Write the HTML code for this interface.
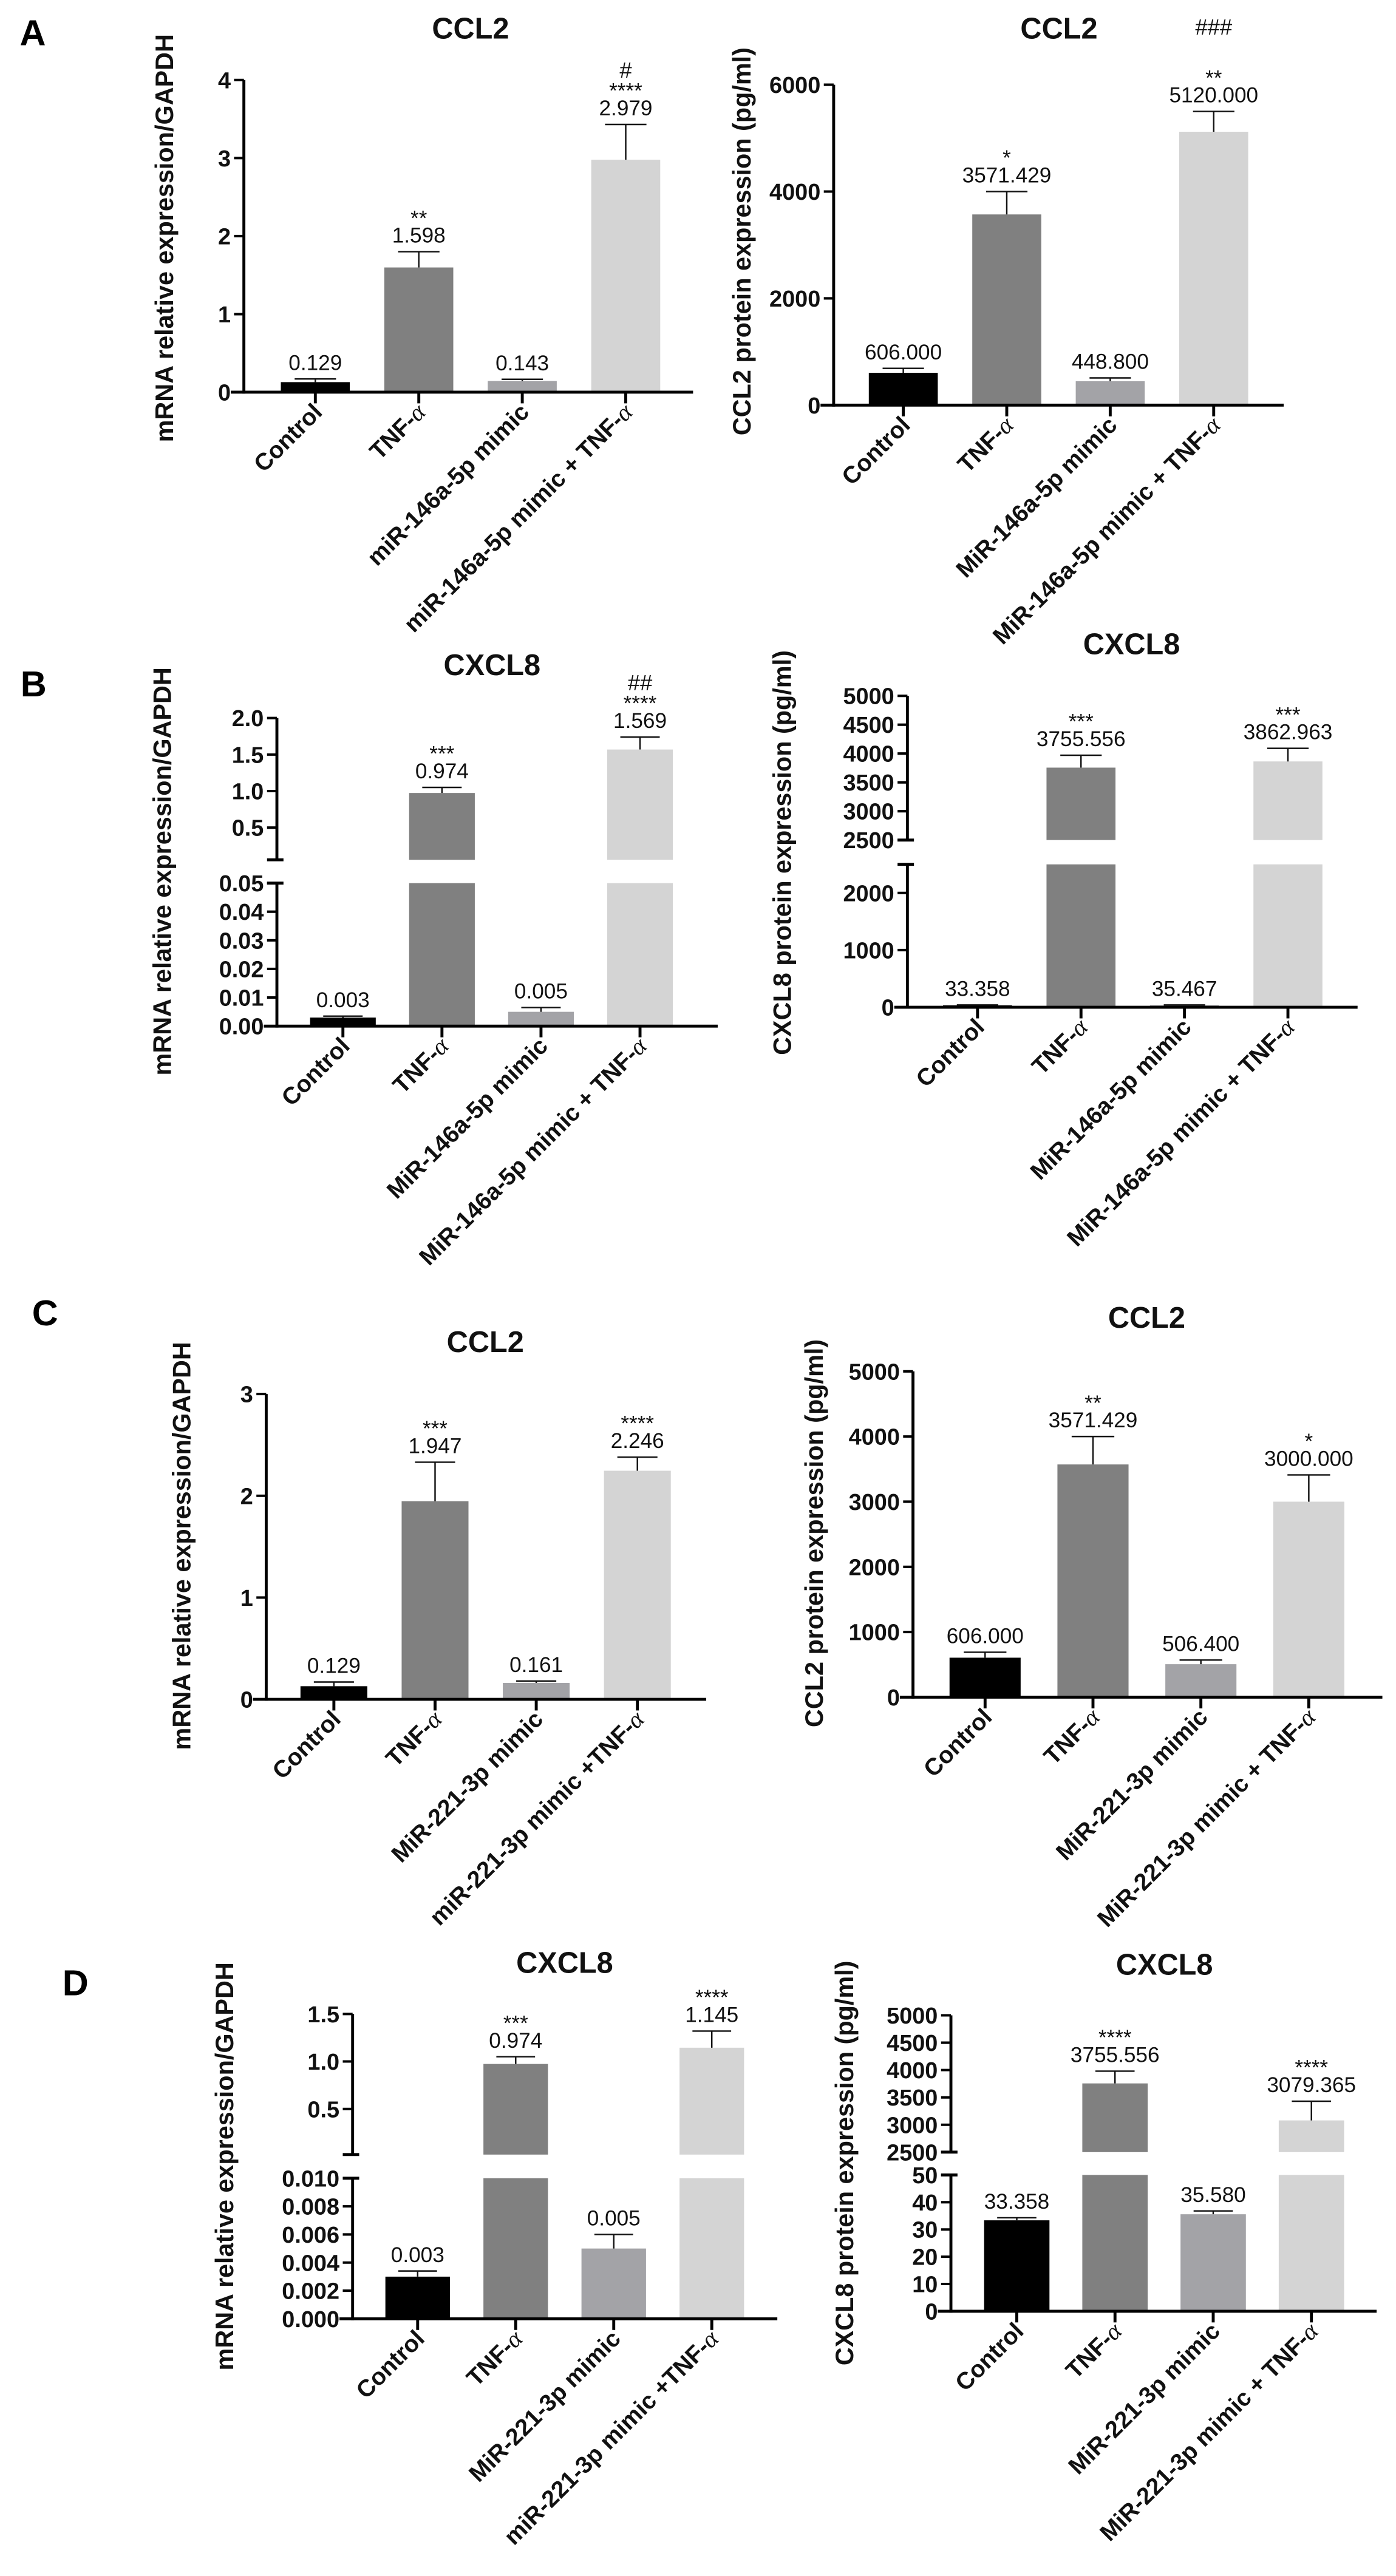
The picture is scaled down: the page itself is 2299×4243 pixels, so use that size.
<!DOCTYPE html>
<html><head><meta charset="utf-8"><title>CCL2 / CXCL8 expression</title>
<style>
html,body{margin:0;padding:0;background:#fff;}
svg{display:block;}
text{font-family:"Liberation Sans",Arial,sans-serif;}
</style></head>
<body>
<svg id="fig" xmlns="http://www.w3.org/2000/svg" width="2299" height="4243" viewBox="0 0 850 1568.5" preserveAspectRatio="none"></svg>
<script>
// ---------- DATA ----------
const colors = ['#000000','#808080','#a3a3a7','#d4d4d4'];

const aLeftCategories = ['Control','TNF-α','miR-146a-5p mimic','miR-146a-5p mimic + TNF-α'];
const aLeftValues = [0.129, 1.598, 0.143, 2.979];
const aLeftErrors = [0.17, 1.80, 0.165, 3.43];
const aLeftStars = ['', '**', '', '****'];
const aLeftHash = ['', '', '', '#'];
const aLeftTicks = [0, 1, 2, 3, 4];

const aRightCategories = ['Control','TNF-α','MiR-146a-5p mimic','MiR-146a-5p mimic + TNF-α'];
const aRightValues = [606.000, 3571.429, 448.800, 5120.000];
const aRightErrors = [690, 4000, 510, 5500];
const aRightStars = ['', '*', '', '**'];
const aRightHash = ['', '', '', '###'];
const aRightTicks = [0, 2000, 4000, 6000];

const bLeftCategories = ['Control','TNF-α','MiR-146a-5p mimic','MiR-146a-5p mimic + TNF-α'];
const bLeftValues = [0.003, 0.974, 0.005, 1.569];
const bLeftErrors = [0.0035, 1.05, 0.0065, 1.74];
const bLeftStars = ['', '***', '', '****'];
const bLeftHash = ['', '', '', '##'];
const bLeftTicksLower = [0, 0.01, 0.02, 0.03, 0.04, 0.05];
const bLeftTicksUpper = [0.5, 1.0, 1.5, 2.0];

const bRightCategories = ['Control','TNF-α','MiR-146a-5p mimic','MiR-146a-5p mimic + TNF-α'];
const bRightValues = [33.358, 3755.556, 35.467, 3862.963];
const bRightErrors = [40, 3970, 40, 4090];
const bRightStars = ['', '***', '', '***'];
const bRightHash = ['', '', '', ''];
const bRightTicksLower = [0, 1000, 2000];
const bRightTicksUpper = [2500, 3000, 3500, 4000, 4500, 5000];

const cLeftCategories = ['Control','TNF-α','MiR-221-3p mimic','miR-221-3p mimic +TNF-α'];
const cLeftValues = [0.129, 1.947, 0.161, 2.246];
const cLeftErrors = [0.17, 2.33, 0.18, 2.38];
const cLeftStars = ['', '***', '', '****'];
const cLeftHash = ['', '', '', ''];
const cLeftTicks = [0, 1, 2, 3];

const cRightCategories = ['Control','TNF-α','MiR-221-3p mimic','MiR-221-3p mimic + TNF-α'];
const cRightValues = [606.000, 3571.429, 506.400, 3000.000];
const cRightErrors = [690, 4000, 570, 3410];
const cRightStars = ['', '**', '', '*'];
const cRightHash = ['', '', '', ''];
const cRightTicks = [0, 1000, 2000, 3000, 4000, 5000];

const dLeftCategories = ['Control','TNF-α','MiR-221-3p mimic','miR-221-3p mimic +TNF-α'];
const dLeftValues = [0.003, 0.974, 0.005, 1.145];
const dLeftErrors = [0.0034, 1.05, 0.006, 1.32];
const dLeftStars = ['', '***', '', '****'];
const dLeftHash = ['', '', '', ''];
const dLeftTicksLower = [0, 0.002, 0.004, 0.006, 0.008, 0.010];
const dLeftTicksUpper = [0.5, 1.0, 1.5];

const dRightCategories = ['Control','TNF-α','MiR-221-3p mimic','MiR-221-3p mimic + TNF-α'];
const dRightValues = [33.358, 3755.556, 35.580, 3079.365];
const dRightErrors = [34.3, 3980, 36.8, 3430];
const dRightStars = ['', '****', '', '****'];
const dRightHash = ['', '', '', ''];
const dRightTicksLower = [0, 10, 20, 30, 40, 50];
const dRightTicksUpper = [2500, 3000, 3500, 4000, 4500, 5000];

// ---------- DRAWING ----------
const NS = 'http://www.w3.org/2000/svg';
const svg = document.getElementById('fig');
function mk(tag, attrs, parent) {
  const e = document.createElementNS(NS, tag);
  for (const k in attrs) e.setAttribute(k, attrs[k]);
  (parent || svg).appendChild(e);
  return e;
}

function addLabel(x, y, txt, size, weight, parent) {
  const t = mk('text', {x: x, y: y, 'font-size': size, 'font-weight': weight, 'text-anchor': 'middle', fill: '#111'}, parent);
  t.textContent = txt;
  return t;
}

function drawPanel(cfg) {
  const g = mk('g', {});
  
  
  const segs = cfg.segments;
  function segY(s, v) {
    const vv = Math.max(s.v0, Math.min(s.v1, v));
    return s.y0 + (vv - s.v0) / (s.v1 - s.v0) * (s.y1 - s.y0);
  }
  function yScale(v) {
    let s = segs[segs.length - 1];
    for (const sg of segs) { if (v <= sg.v1) { s = sg; break; } }
    return segY(s, v);
  }
  function xScale(i) { return cfg.c0 + i * cfg.step; }
  const axisY = segs[0].y0;

  const title = addLabel(cfg.titleX, cfg.titleY, cfg.title, 18, 'bold', g);
  
  

  const yt = mk('text', {x: 0, y: 0, 'font-size': 15.3, 'font-weight': 'bold', 'text-anchor': 'middle', fill: '#111',
    transform: 'translate(' + (cfg.yTitleX + 5) + ',' + cfg.yTitleY + ') rotate(-90)'}, g);
  yt.textContent = cfg.yTitle;
  
  

  cfg.values.forEach(function (v, i) {
    const cx = xScale(i);
    segs.forEach(function (s) {
      if (v <= s.v0) return;
      const top = segY(s, Math.min(v, s.v1));
      const bot = s.y0;
      const r = mk('rect', {x: cx - cfg.bw / 2, y: top, width: cfg.bw, height: Math.max(0, bot - top), fill: colors[i]}, g);
      
      
    });
    const yv = yScale(v), ye = yScale(cfg.errors[i]);
    const eb = mk('path', {d: 'M' + cx + ' ' + yv + 'V' + ye + 'M' + (cx - cfg.bw * 0.3) + ' ' + ye + 'H' + (cx + cfg.bw * 0.3),
      stroke: '#111', 'stroke-width': 0.9, fill: 'none'}, g);
    
    
    const vb = ye - 5.5;
    const vl = addLabel(cx, vb, v.toFixed(cfg.dec), 13, 'normal', g);
    
    
    if (cfg.stars[i]) {
      const st = addLabel(cx, vb - 10.5, cfg.stars[i], 13, 'normal', g);
      
      
    }
    if (cfg.hash[i]) {
      const hy = cfg.hashY !== undefined ? cfg.hashY : (vb - 10.5 - (cfg.stars[i] ? 12.5 : 0));
      const hs = addLabel(cx, hy, cfg.hash[i], 13.5, 'normal', g);
      
      
    }
  });

  const ax = cfg.axisX;
  segs.forEach(function (s, si) {
    const line = mk('line', {x1: ax, x2: ax, y1: s.y0 + (si === 0 ? 0.9 : 0), y2: s.y1, stroke: '#000', 'stroke-width': 1.8}, g);
    
    
    if (segs.length > 1) {
      if (si > 0) {
        const bt = mk('line', {x1: ax - 6, x2: ax + 4, y1: s.y0, y2: s.y0, stroke: '#000', 'stroke-width': 1.8}, g);
        
        
      }
      if (si < segs.length - 1) {
        const bt2 = mk('line', {x1: ax - 6, x2: ax + 4, y1: s.y1, y2: s.y1, stroke: '#000', 'stroke-width': 1.8}, g);
        
        
      }
    }
    (s.ticks || []).forEach(function (tv) {
      const ty = segY(s, tv);
      const tk = mk('line', {x1: ax - 6, x2: ax, y1: ty, y2: ty, stroke: '#000', 'stroke-width': 1.5}, g);
      
      
      const tl = mk('text', {x: ax - 8, y: ty + 5, 'font-size': 14, 'font-weight': 'bold', 'text-anchor': 'end', fill: '#111'}, g);
      tl.textContent = tv.toFixed(s.dec);
      
      
    });
  });

  const xa = mk('line', {x1: ax - 8, x2: cfg.axisEnd, y1: axisY, y2: axisY, stroke: '#000', 'stroke-width': 1.8}, g);
  
  
  cfg.categories.forEach(function (c, i) {
    const cx = xScale(i);
    const xt = mk('line', {x1: cx, x2: cx, y1: axisY, y2: axisY + 6.8, stroke: '#000', 'stroke-width': 1.8}, g);
    
    
    const px = cx + 5, py = axisY + 13;
    const lb = mk('text', {x: 0, y: 0, 'font-size': 14.5, 'font-weight': 'bold', 'text-anchor': 'end', fill: '#111',
      transform: 'translate(' + px + ',' + py + ') rotate(-45)'}, g);
    
    
    const idx = c.indexOf('α');
    if (idx >= 0) {
      const t1 = mk('tspan', {}, lb); t1.textContent = c.slice(0, idx);
      const t2 = mk('tspan', {'font-family': '"Liberation Serif",serif', 'font-style': 'italic', 'font-weight': 'normal', 'font-size': 15}, lb);
      t2.textContent = 'α';
    } else {
      lb.textContent = c;
    }
  });
}

function panelLetter(txt, x, y) {
  const t = mk('text', {x: x, y: y, 'font-size': 22, 'font-weight': 'bold', fill: '#000'});
  t.textContent = txt;
  
  
}

panelLetter('A', 12, 27.5);
panelLetter('B', 12.5, 424);
panelLetter('C', 19.5, 807);
panelLetter('D', 38, 1215);

drawPanel({name: 'panel-a-ccl2-mrna', title: 'CCL2', titleX: 286.5, titleY: 23.5, yTitle: 'mRNA relative expression/GAPDH', yTitleX: 100.3, yTitleY: 145,
  categories: aLeftCategories, values: aLeftValues, errors: aLeftErrors, stars: aLeftStars, hash: aLeftHash, dec: 3,
  segments: [{v0: 0, v1: 4, y0: 238.8, y1: 48.7, ticks: aLeftTicks, dec: 0}], axisX: 148.5, axisEnd: 422, c0: 192, step: 63, bw: 42});

drawPanel({name: 'panel-a-ccl2-protein', title: 'CCL2', titleX: 644.8, titleY: 23.5, yTitle: 'CCL2 protein expression (pg/ml)', yTitleX: 452, yTitleY: 147,
  categories: aRightCategories, values: aRightValues, errors: aRightErrors, stars: aRightStars, hash: aRightHash, hashY: 21, dec: 3,
  segments: [{v0: 0, v1: 6000, y0: 246.7, y1: 51.6, ticks: aRightTicks, dec: 0}], axisX: 507.6, axisEnd: 781.6, c0: 550, step: 63, bw: 42});

drawPanel({name: 'panel-b-cxcl8-mrna', title: 'CXCL8', titleX: 299.6, titleY: 411, yTitle: 'mRNA relative expression/GAPDH', yTitleX: 99, yTitleY: 530.6,
  categories: bLeftCategories, values: bLeftValues, errors: bLeftErrors, stars: bLeftStars, hash: bLeftHash, dec: 3,
  segments: [{v0: 0, v1: 0.05, y0: 624.8, y1: 537.7, ticks: bLeftTicksLower, dec: 2}, {v0: 0.06, v1: 2.0, y0: 523.5, y1: 437.2, ticks: bLeftTicksUpper, dec: 1}],
  axisX: 168.6, axisEnd: 437, c0: 208.8, step: 60.3, bw: 40});

drawPanel({name: 'panel-b-cxcl8-protein', title: 'CXCL8', titleX: 689, titleY: 398.3, yTitle: 'CXCL8 protein expression (pg/ml)', yTitleX: 476.5, yTitleY: 519.2,
  categories: bRightCategories, values: bRightValues, errors: bRightErrors, stars: bRightStars, hash: bRightHash, dec: 3,
  segments: [{v0: 0, v1: 2500, y0: 613.3, y1: 526.3, ticks: bRightTicksLower, dec: 0}, {v0: 2500, v1: 5000, y0: 511.5, y1: 423.7, ticks: bRightTicksUpper, dec: 0}],
  axisX: 552.5, axisEnd: 826.6, c0: 595.2, step: 63, bw: 42});

drawPanel({name: 'panel-c-ccl2-mrna', title: 'CCL2', titleX: 295.5, titleY: 823.3, yTitle: 'mRNA relative expression/GAPDH', yTitleX: 111, yTitleY: 941.3,
  categories: cLeftCategories, values: cLeftValues, errors: cLeftErrors, stars: cLeftStars, hash: cLeftHash, dec: 3,
  segments: [{v0: 0, v1: 3, y0: 1034.7, y1: 848.8, ticks: cLeftTicks, dec: 0}], axisX: 162.1, axisEnd: 430, c0: 203.3, step: 61.6, bw: 40.7});

drawPanel({name: 'panel-c-ccl2-protein', title: 'CCL2', titleX: 698.2, titleY: 808.5, yTitle: 'CCL2 protein expression (pg/ml)', yTitleX: 496, yTitleY: 933.6,
  categories: cRightCategories, values: cRightValues, errors: cRightErrors, stars: cRightStars, hash: cRightHash, dec: 3,
  segments: [{v0: 0, v1: 5000, y0: 1033.4, y1: 835, ticks: cRightTicks, dec: 0}], axisX: 555.9, axisEnd: 841.7, c0: 599.8, step: 65.7, bw: 43.3});

drawPanel({name: 'panel-d-cxcl8-mrna', title: 'CXCL8', titleX: 343.8, titleY: 1201.3, yTitle: 'mRNA relative expression/GAPDH', yTitleX: 137, yTitleY: 1319.1,
  categories: dLeftCategories, values: dLeftValues, errors: dLeftErrors, stars: dLeftStars, hash: dLeftHash, dec: 3,
  segments: [{v0: 0, v1: 0.010, y0: 1411.9, y1: 1326.3, ticks: dLeftTicksLower, dec: 3}, {v0: 0.02, v1: 1.5, y0: 1311.9, y1: 1226.3, ticks: dLeftTicksUpper, dec: 1}],
  axisX: 214.7, axisEnd: 473.3, c0: 254.3, step: 59.7, bw: 39.3});

drawPanel({name: 'panel-d-cxcl8-protein', title: 'CXCL8', titleX: 709, titleY: 1202.3, yTitle: 'CXCL8 protein expression (pg/ml)', yTitleX: 514.5, yTitleY: 1317.1,
  categories: dRightCategories, values: dRightValues, errors: dRightErrors, stars: dRightStars, hash: dRightHash, dec: 3,
  segments: [{v0: 0, v1: 50, y0: 1407.3, y1: 1324.3, ticks: dRightTicksLower, dec: 0}, {v0: 2500, v1: 5000, y0: 1310.4, y1: 1227.1, ticks: dRightTicksUpper, dec: 0}],
  axisX: 579, axisEnd: 838.2, c0: 619.1, step: 59.8, bw: 39.8});
</script>
</body></html>
